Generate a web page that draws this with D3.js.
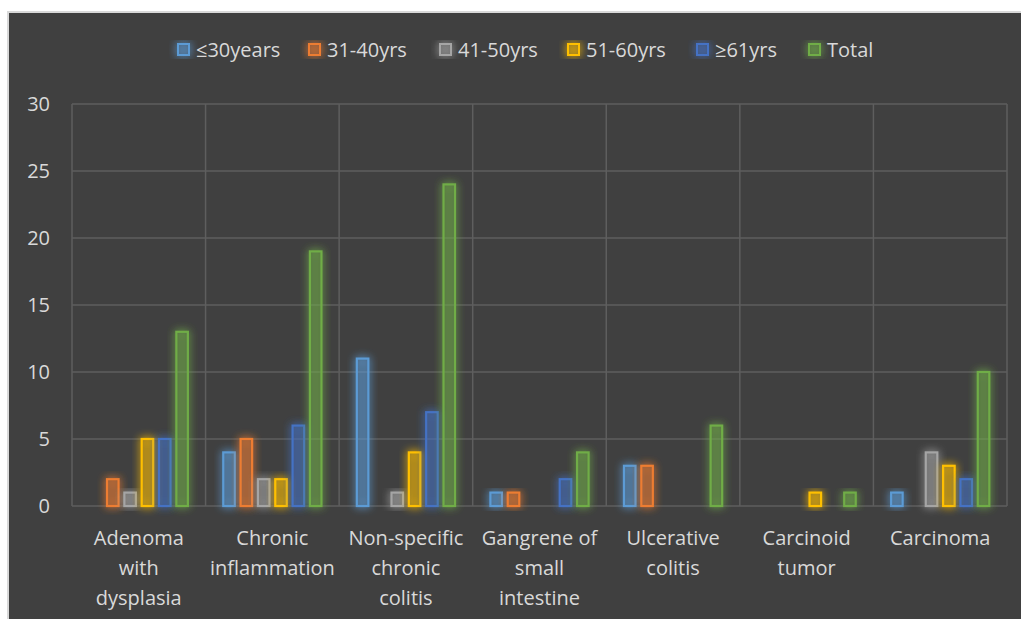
<!DOCTYPE html>
<html>
<head>
<meta charset="utf-8">
<script src="https://cdn.jsdelivr.net/npm/d3@7"></script>
<style>
  html, body { margin: 0; padding: 0; background: #ffffff; }
  svg { display: block; }
  text { font-family: "Open Sans", "Noto Sans", sans-serif; }
</style>
</head>
<body>
<svg id="chart" width="1021" height="619"></svg>
<script>
// Diagnoses by age group
const categories = [
  ["Adenoma", "with", "dysplasia"],
  ["Chronic", "inflammation"],
  ["Non-specific", "chronic", "colitis"],
  ["Gangrene of", "small", "intestine"],
  ["Ulcerative", "colitis"],
  ["Carcinoid", "tumor"],
  ["Carcinoma"]
];
const seriesNames = ["≤30years", "31-40yrs", "41-50yrs", "51-60yrs", "≥61yrs", "Total"];
const seriesColors = ["#5B9BD5", "#ED7D31", "#A5A5A5", "#FFC000", "#4472C4", "#70AD47"];
const under30 = [0, 4, 11, 1, 3, 0, 1];
const age31to40 = [2, 5, 0, 1, 3, 0, 0];
const age41to50 = [1, 2, 1, 0, 0, 0, 4];
const age51to60 = [5, 2, 4, 0, 0, 1, 3];
const over61 = [5, 6, 7, 2, 0, 0, 2];
const total = [13, 19, 24, 4, 6, 1, 10];
const yTicks = [0, 5, 10, 15, 20, 25, 30];

const seriesValues = [under30, age31to40, age41to50, age51to60, over61, total];

const svg = d3.select("#chart");
const W = 1021, H = 619;

// panel background with light frame
svg.append("rect").attr("x", 7).attr("y", 11).attr("width", W - 7).attr("height", H - 11)
  .attr("fill", "#d9d9d9");
svg.append("rect").attr("x", 9).attr("y", 13).attr("width", W - 9).attr("height", H - 13)
  .attr("fill", "#404040");

const plot = { left: 72, right: 1007, top: 104, bottom: 506 };

// soft glow filters per series
const defs = svg.append("defs");
seriesColors.forEach((c, i) => {
  const f = defs.append("filter").attr("id", "glow" + i)
    .attr("x", "-80%").attr("y", "-30%").attr("width", "260%").attr("height", "160%");
  f.append("feGaussianBlur").attr("in", "SourceGraphic").attr("stdDeviation", 4).attr("result", "b");
  f.append("feComponentTransfer").attr("in", "b").attr("result", "b2")
    .append("feFuncA").attr("type", "linear").attr("slope", 1.4);
  const m = f.append("feMerge");
  m.append("feMergeNode").attr("in", "b2");
  m.append("feMergeNode").attr("in", "SourceGraphic");
});

const x0 = d3.scaleBand()
  .domain(d3.range(categories.length))
  .range([plot.left, plot.right])
  .paddingInner(0.25).paddingOuter(0.125);
const x1 = d3.scaleBand()
  .domain(d3.range(seriesNames.length))
  .range([0, x0.bandwidth()])
  .paddingInner(0.22).paddingOuter(0);
const y = d3.scaleLinear().domain([0, 30]).range([plot.bottom, plot.top]);

// horizontal gridlines
svg.append("g").selectAll("line").data(yTicks).join("line")
  .attr("x1", plot.left).attr("x2", plot.right)
  .attr("y1", d => y(d)).attr("y2", d => y(d))
  .attr("stroke", "#5e5e5e").attr("stroke-width", 1.5);

// vertical category separators
const seps = d3.range(categories.length + 1).map(i => plot.left + i * x0.step());
svg.append("g").selectAll("line").data(seps).join("line")
  .attr("x1", d => d).attr("x2", d => d)
  .attr("y1", plot.top).attr("y2", plot.bottom)
  .attr("stroke", "#5e5e5e").attr("stroke-width", 1.5);

// y axis labels
const yAxis = d3.axisLeft(y).tickValues(yTicks).tickSize(0).tickPadding(22);
const ya = svg.append("g").attr("transform", `translate(${plot.left},0)`).call(yAxis);
ya.select(".domain").remove();
ya.selectAll("text").attr("fill", "#d9d9d9").style("font-size", "20px")
  .style("font-family", "'Open Sans', sans-serif");

// bars
const groups = svg.append("g").selectAll("g").data(categories).join("g")
  .attr("transform", (d, i) => `translate(${x0(i)},0)`);
groups.each(function (cat, ci) {
  const g = d3.select(this);
  seriesValues.forEach((vals, si) => {
    const v = vals[ci];
    if (v <= 0) return;
    g.append("rect")
      .attr("x", x1(si) + 1).attr("width", x1.bandwidth() - 2)
      .attr("y", y(v)).attr("height", y(0) - y(v))
      .attr("fill", seriesColors[si]).attr("fill-opacity", 0.22)
      .attr("stroke", seriesColors[si]).attr("stroke-width", 2.2)
      .attr("filter", `url(#glow${si})`);
  });
});

// category labels
const xl = svg.append("g");
categories.forEach((lines, i) => {
  const cx = x0(i) + x0.bandwidth() / 2;
  const t = xl.append("text").attr("x", cx).attr("y", 545)
    .attr("text-anchor", "middle").attr("fill", "#d9d9d9").style("font-size", "20px");
  lines.forEach((ln, k) => {
    t.append("tspan").attr("x", cx).attr("dy", k === 0 ? 0 : 30).text(ln);
  });
});

// legend
const legendX = [178, 309, 440, 568, 697, 809];
const lg = svg.append("g");
seriesNames.forEach((name, i) => {
  const item = lg.append("g").attr("transform", `translate(${legendX[i]},44)`);
  item.append("rect").attr("x", 0).attr("y", 0).attr("width", 11).attr("height", 11)
    .attr("fill", seriesColors[i]).attr("fill-opacity", 0.22)
    .attr("stroke", seriesColors[i]).attr("stroke-width", 2)
    .attr("filter", `url(#glow${i})`);
  item.append("text").attr("x", 18).attr("y", 13).attr("fill", "#d9d9d9")
    .style("font-size", "20px").text(name);
});
</script>
</body>
</html>
